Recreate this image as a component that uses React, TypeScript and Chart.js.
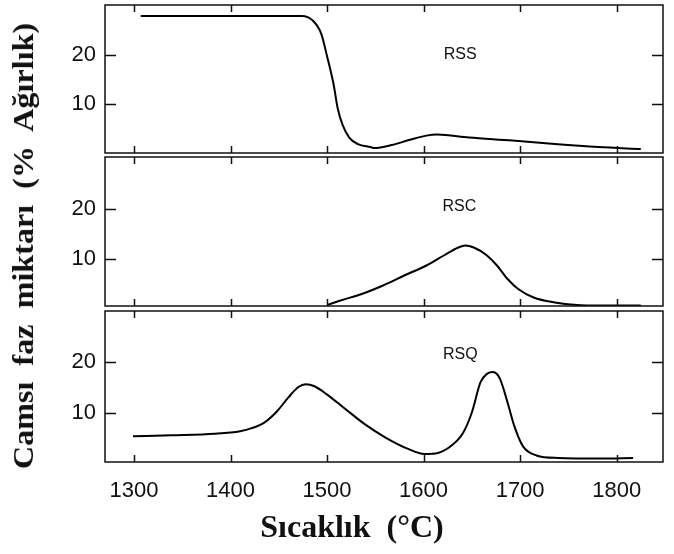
import React, { useEffect, useRef } from "react";
import { Chart, registerables } from "chart.js";

Chart.register(...registerables);

// ---- data ----
const xTickValues = [1300, 1400, 1500, 1600, 1700, 1800];
const yTickValues = [10, 20];
const X_MIN = 1270;
const X_MAX = 1848;
const yRangeRSS = [0.2, 30];
const yRangeRSC = [0.6, 30.4];
const yRangeRSQ = [0.2, 30.1];

const rssTemp = [1307, 1474, 1485, 1494, 1500, 1507, 1511, 1516, 1523, 1532, 1545, 1549, 1567, 1585, 1603, 1614, 1647, 1692, 1736, 1781, 1825];
const rssValue = [27.8, 27.8, 26.9, 24.2, 19.7, 13.8, 9.2, 5.9, 3.3, 2.0, 1.4, 1.2, 1.8, 2.8, 3.7, 3.9, 3.3, 2.7, 2.0, 1.4, 1.0];

const rscTemp = [1500, 1514, 1536, 1558, 1580, 1603, 1621, 1636, 1643, 1652, 1665, 1676, 1687, 1698, 1714, 1736, 1759, 1781, 1825];
const rscValue = [0.8, 1.7, 3.0, 4.7, 6.7, 8.7, 10.7, 12.3, 12.7, 12.3, 10.8, 8.7, 6.0, 4.0, 2.3, 1.3, 0.8, 0.7, 0.7];

const rsqTemp = [1299, 1339, 1384, 1410, 1422, 1435, 1448, 1460, 1470, 1478, 1487, 1499, 1517, 1539, 1561, 1584, 1601, 1615, 1628, 1641, 1650, 1659, 1666, 1672, 1679, 1688, 1694, 1703, 1717, 1739, 1783, 1817];
const rsqValue = [5.3, 5.5, 5.8, 6.3, 6.9, 8.0, 10.2, 13.0, 15.0, 15.6, 15.2, 13.7, 11.0, 7.7, 5.0, 2.8, 1.8, 2.0, 3.3, 6.0, 10.0, 16.0, 17.7, 18.0, 16.7, 11.3, 7.3, 3.3, 1.5, 1.0, 0.9, 1.0];

const seriesNames = ["RSS", "RSC", "RSQ"];
const xTitle = "Sıcaklık  (°C)";
const yTitle = "Camsı  faz  miktarı  (%  Ağırlık)";

// ---- drawing helpers ----
const INK = "#111";

function framePlugin(label: string, lx: number, ly: number) {
  return {
    id: "frame",
    afterDraw(chart: any) {
      const { ctx, chartArea: a, scales } = chart;
      const xs = scales.x;
      const ys = scales.y;
      ctx.save();
      ctx.strokeStyle = INK;
      ctx.lineWidth = 1.5;
      ctx.strokeRect(a.left, a.top, a.right - a.left, a.bottom - a.top);
      ctx.beginPath();
      for (const v of xTickValues) {
        const px = Math.round(xs.getPixelForValue(v)) + 0.5;
        ctx.moveTo(px, a.bottom);
        ctx.lineTo(px, a.bottom - 7);
        ctx.moveTo(px, a.top);
        ctx.lineTo(px, a.top + 7);
      }
      for (const v of yTickValues) {
        const py = Math.round(ys.getPixelForValue(v)) + 0.5;
        ctx.moveTo(a.left, py);
        ctx.lineTo(a.left + 11, py);
        ctx.moveTo(a.right, py);
        ctx.lineTo(a.right - 11, py);
      }
      ctx.stroke();
      ctx.fillStyle = INK;
      ctx.font = '16px "Liberation Sans"';
      ctx.textAlign = "center";
      ctx.textBaseline = "middle";
      ctx.fillText(label, xs.getPixelForValue(lx), ys.getPixelForValue(ly));
      ctx.restore();
    },
  };
}

type PanelProps = {
  top: number;
  height: number;
  temps: number[];
  values: number[];
  yRange: number[];
  label: string;
  lx: number;
  ly: number;
  showX: boolean;
};

function Panel({ top, height, temps, values, yRange, label, lx, ly, showX }: PanelProps) {
  const ref = useRef<HTMLCanvasElement>(null);
  useEffect(() => {
    const chart = new Chart(ref.current as HTMLCanvasElement, {
      type: "line",
      data: {
        datasets: [
          {
            data: temps.map((t, i) => ({ x: t, y: values[i] })),
            borderColor: "#000",
            borderWidth: 2,
            pointRadius: 0,
            cubicInterpolationMode: "monotone",
            fill: false,
          },
        ],
      },
      options: {
        responsive: false,
        animation: false,
        devicePixelRatio: 1,
        layout: { padding: { left: 0, right: 11, top: 5, bottom: showX ? 0 : 5 } },
        plugins: { legend: { display: false }, tooltip: { enabled: false } },
        scales: {
          x: {
            type: "linear",
            min: X_MIN,
            max: X_MAX,
            display: showX,
            grid: { display: false, drawTicks: false },
            border: { display: false },
            afterBuildTicks: (s: any) => {
              s.ticks = xTickValues.map((v) => ({ value: v }));
            },
            afterFit: (s: any) => {
              if (showX) s.height = 92;
              s.paddingLeft = 0;
              s.paddingRight = 0;
              s.paddingTop = 0;
              s.paddingBottom = 0;
            },
            ticks: {
              font: { family: '"Liberation Sans"', size: 22 },
              color: INK,
              padding: 16,
              maxRotation: 0,
              autoSkip: false,
              callback: (v: any) => String(v),
            },
          },
          y: {
            type: "linear",
            min: yRange[0],
            max: yRange[1],
            grid: { display: false, drawTicks: false },
            border: { display: false },
            afterBuildTicks: (s: any) => {
              s.ticks = yTickValues.map((v) => ({ value: v }));
            },
            afterFit: (s: any) => {
              s.width = 105;
              s.paddingLeft = 0;
              s.paddingRight = 0;
              s.paddingTop = 0;
              s.paddingBottom = 0;
            },
            ticks: {
              font: { family: '"Liberation Sans"', size: 22 },
              color: INK,
              padding: 9,
            },
          },
        },
      } as any,
      plugins: [framePlugin(label, lx, ly)],
    });
    return () => chart.destroy();
  }, []);
  return (
    <canvas
      ref={ref}
      width={674}
      height={height}
      style={{ position: "absolute", left: 0, top, width: 674, height }}
    />
  );
}

function measure(text: string, font: string): number {
  const c = document.createElement("canvas").getContext("2d");
  if (!c) return 400;
  c.font = font;
  return c.measureText(text).width;
}

export default function App() {
  const yFont = 'bold 30px "Liberation Serif"';
  const yScale = 448 / measure(yTitle, yFont);
  return (
    <div
      style={{
        position: "absolute",
        left: 0,
        top: 0,
        width: 674,
        height: 554,
        background: "#fff",
        overflow: "hidden",
      }}
    >
      <Panel top={0} height={158} temps={rssTemp} values={rssValue} yRange={yRangeRSS} label={seriesNames[0]} lx={1638} ly={20} showX={false} />
      <Panel top={152} height={159} temps={rscTemp} values={rscValue} yRange={yRangeRSC} label={seriesNames[1]} lx={1637} ly={20.5} showX={false} />
      <Panel top={306} height={248} temps={rsqTemp} values={rsqValue} yRange={yRangeRSQ} label={seriesNames[2]} lx={1638} ly={21.5} showX={true} />
      <div
        style={{
          position: "absolute",
          left: 23,
          top: 246,
          font: yFont,
          lineHeight: "30px",
          whiteSpace: "pre",
          color: INK,
          transform: `translate(-50%, -50%) rotate(-90deg) scaleX(${yScale})`,
        }}
      >
        {yTitle}
      </div>
      <div
        style={{
          position: "absolute",
          left: 352,
          top: 510,
          font: 'bold 32px "Liberation Serif"',
          lineHeight: "32px",
          whiteSpace: "pre",
          color: INK,
          transform: "translateX(-50%)",
        }}
      >
        {xTitle}
      </div>
    </div>
  );
}
